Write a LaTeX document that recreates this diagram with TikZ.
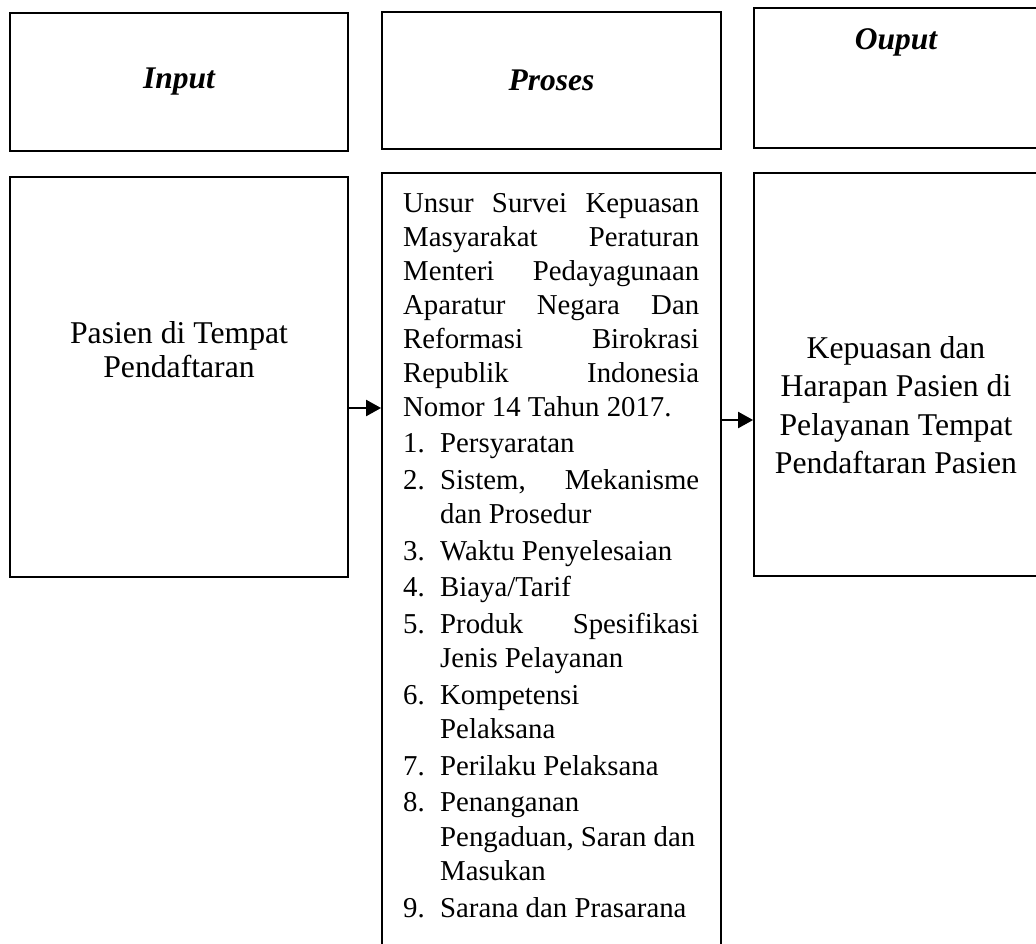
\documentclass[tikz,border=0pt]{standalone}
\usepackage{fontspec}
\setmainfont{Liberation Serif}
\usetikzlibrary{arrows.meta}
\begin{document}
\begin{tikzpicture}[x=1pt,y=-1pt,
  box/.style={draw=black,line width=1.8pt,inner sep=0pt},
  headtxt/.style={font=\fontsize{31.5}{36}\selectfont\bfseries\itshape,inner sep=0pt},
  bodytxt/.style={font=\fontsize{31.7}{34}\selectfont,inner sep=0pt,align=center},
  arr/.style={line width=2.2pt,-{Triangle[length=15pt,width=16pt]}}]
\useasboundingbox (0,0) rectangle (1036,943);
\clip (0,0) rectangle (1036,943);
% header boxes
\node[box,minimum width=338pt,minimum height=138pt] (inhead) at (179,82) {};
\node[box,minimum width=339pt,minimum height=137pt] (prhead) at (551.5,80.5) {};
\node[box,minimum width=284pt,minimum height=140pt] (outhead) at (896,78) {};
\node[headtxt] (inlbl) at (inhead.center) {Input};
\node[headtxt] (prlbl) at (prhead.center) {Proses};
\node[headtxt] (outlbl) at (896,42) {Ouput};
% main boxes
\node[box,minimum width=338pt,minimum height=400pt] (pasien) at (179,377) {};
\node[box,minimum width=339pt,minimum height=777pt] (proses) at (551.5,561.5) {};
\node[box,minimum width=284pt,minimum height=403pt] (hasil) at (896,374.5) {};
% texts
\node[bodytxt] (pasientxt) at (179,350) {Pasien di Tempat\\Pendaftaran};
\node[bodytxt,font=\fontsize{31.7}{38.5}\selectfont] (hasiltxt) at (896,405) {Kepuasan dan\\Harapan Pasien di\\Pelayanan Tempat\\Pendaftaran Pasien};
\node[inner sep=0pt,anchor=north west,align=left,font=\fontsize{28.8}{34}\selectfont] (prosestxt) at (403,193) {%
\makebox[296pt][s]{Unsur Survei Kepuasan}\\
\makebox[296pt][s]{Masyarakat Peraturan}\\
\makebox[296pt][s]{Menteri Pedayagunaan}\\
\makebox[296pt][s]{Aparatur Negara Dan}\\
\makebox[296pt][s]{Reformasi Birokrasi}\\
\makebox[296pt][s]{Republik Indonesia}\\
Nomor 14 Tahun 2017.\\[2.5pt]
\makebox[37pt][l]{1.}Persyaratan\\[2.5pt]
\makebox[37pt][l]{2.}\makebox[259pt][s]{Sistem, Mekanisme}\\[0.5pt]
\hspace*{37pt}dan Prosedur\\[2.5pt]
\makebox[37pt][l]{3.}Waktu Penyelesaian\\[2.5pt]
\makebox[37pt][l]{4.}Biaya/Tarif\\[2.5pt]
\makebox[37pt][l]{5.}\makebox[259pt][s]{Produk Spesifikasi}\\[0.5pt]
\hspace*{37pt}Jenis Pelayanan\\[2.5pt]
\makebox[37pt][l]{6.}Kompetensi\\[0.5pt]
\hspace*{37pt}Pelaksana\\[2.5pt]
\makebox[37pt][l]{7.}Perilaku Pelaksana\\[2.5pt]
\makebox[37pt][l]{8.}Penanganan\\[0.5pt]
\hspace*{37pt}Pengaduan, Saran dan\\[0.5pt]
\hspace*{37pt}Masukan\\[2.5pt]
\makebox[37pt][l]{9.}Sarana dan Prasarana};
% arrows
\coordinate (ya) at (0,408);
\coordinate (yb) at (0,420);
\draw[arr] (pasien.east |- ya) -- (proses.west |- ya);
\draw[arr] (proses.east |- yb) -- (hasil.west |- yb);
\end{tikzpicture}
\end{document}
